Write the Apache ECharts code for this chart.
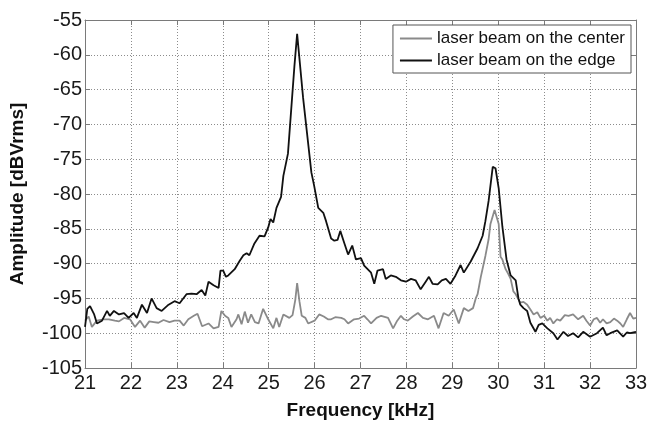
<!DOCTYPE html>
<html>
<head>
<meta charset="utf-8">
<script src="https://cdn.jsdelivr.net/npm/echarts@6/dist/echarts.min.js"></script>
<style>
html,body{margin:0;padding:0;background:#fff;}
#chart{width:652px;height:425px;}
</style>
</head>
<body>
<div id="chart"></div>
<script>
// ---- data ----
const xTicks = [21,22,23,24,25,26,27,28,29,30,31,32,33];
const yTicks = [-105,-100,-95,-90,-85,-80,-75,-70,-65,-60,-55];

const edgeFreq = [21.00,21.05,21.11,21.20,21.26,21.37,21.48,21.54,21.63,21.74,21.85,21.95,22.06,22.13,22.24,22.35,22.45,22.56,22.67,22.82,22.95,23.06,23.21,23.32,23.43,23.54,23.62,23.69,23.80,23.91,23.95,24.01,24.07,24.12,24.26,24.37,24.45,24.52,24.58,24.69,24.80,24.91,24.99,25.04,25.10,25.17,25.27,25.32,25.42,25.56,25.62,25.75,25.93,25.99,26.08,26.19,26.25,26.36,26.43,26.50,26.56,26.65,26.73,26.82,26.90,27.01,27.08,27.23,27.30,27.37,27.49,27.55,27.66,27.77,27.88,27.99,28.10,28.20,28.31,28.42,28.49,28.57,28.68,28.77,28.86,28.96,29.07,29.18,29.25,29.40,29.55,29.66,29.72,29.79,29.88,29.94,30.01,30.09,30.18,30.27,30.38,30.44,30.48,30.55,30.63,30.70,30.81,30.88,30.96,31.07,31.20,31.29,31.42,31.52,31.63,31.74,31.85,32.00,32.15,32.28,32.36,32.44,32.59,32.72,32.80,32.87,33.00];
const edgeAmp = [-99.1,-96.5,-96.1,-97.3,-98.6,-98.2,-96.8,-97.5,-96.8,-97.3,-97.1,-97.8,-97.1,-97.8,-95.9,-97.1,-95.0,-96.4,-96.8,-95.9,-95.4,-95.7,-94.4,-94.3,-94.4,-93.8,-94.6,-92.6,-93.1,-93.5,-91.0,-91.0,-91.9,-91.7,-90.8,-89.6,-88.8,-88.5,-88.8,-87.1,-86.0,-86.1,-84.8,-83.6,-84.1,-82.0,-80.4,-77.4,-74.2,-61.7,-57.0,-66.2,-76.9,-78.8,-82.0,-82.7,-83.9,-86.4,-86.7,-86.6,-85.3,-87.1,-88.7,-87.4,-89.4,-89.2,-90.3,-91.3,-92.9,-91.0,-90.8,-92.2,-91.7,-91.9,-92.4,-92.6,-92.2,-92.4,-93.7,-92.6,-91.9,-92.9,-93.0,-92.4,-92.2,-92.9,-91.7,-90.2,-91.3,-89.7,-87.8,-86.0,-83.9,-81.0,-76.1,-76.3,-79.2,-84.7,-89.4,-91.7,-92.4,-95.0,-95.9,-96.4,-96.8,-98.5,-99.8,-98.8,-98.6,-99.3,-100.0,-100.9,-99.8,-100.4,-100.0,-100.6,-99.8,-100.5,-100.0,-99.2,-100.3,-100.0,-99.6,-100.5,-99.9,-100.0,-99.8];

const centerFreq = [21.00,21.08,21.15,21.26,21.40,21.52,21.65,21.74,21.85,21.98,22.09,22.20,22.30,22.40,22.50,22.60,22.71,22.84,22.95,23.06,23.15,23.25,23.37,23.45,23.55,23.69,23.80,23.91,23.97,24.05,24.12,24.19,24.30,24.34,24.41,24.48,24.55,24.62,24.70,24.78,24.88,24.99,25.10,25.17,25.23,25.32,25.45,25.52,25.58,25.62,25.67,25.72,25.80,25.86,26.00,26.10,26.20,26.29,26.36,26.45,26.58,26.65,26.73,26.86,26.97,27.08,27.15,27.23,27.35,27.45,27.60,27.71,27.80,27.88,27.95,28.03,28.14,28.25,28.36,28.47,28.60,28.70,28.81,28.92,29.03,29.14,29.25,29.35,29.45,29.51,29.55,29.62,29.72,29.79,29.83,29.92,29.96,30.01,30.05,30.09,30.16,30.22,30.27,30.33,30.38,30.48,30.55,30.63,30.70,30.77,30.85,30.92,31.00,31.07,31.13,31.20,31.28,31.35,31.45,31.53,31.63,31.74,31.85,31.92,32.00,32.08,32.15,32.22,32.28,32.36,32.44,32.52,32.59,32.66,32.72,32.80,32.87,32.94,33.00];
const centerAmp = [-98.2,-97.6,-99.1,-98.2,-98.0,-98.0,-98.2,-98.3,-97.8,-98.0,-99.1,-98.2,-99.2,-98.3,-98.4,-98.5,-98.1,-98.4,-98.2,-98.2,-98.9,-98.0,-97.5,-97.2,-99.0,-98.6,-99.3,-99.1,-96.8,-97.5,-97.8,-99.1,-98.0,-97.3,-98.7,-96.9,-98.5,-97.3,-98.4,-98.6,-96.5,-98.0,-99.3,-97.8,-99.1,-97.3,-97.8,-97.4,-95.2,-92.8,-95.4,-97.5,-97.8,-98.6,-98.2,-97.3,-97.6,-98.0,-98.0,-97.7,-97.8,-98.0,-98.6,-98.0,-97.9,-97.5,-98.0,-98.6,-97.8,-97.5,-97.8,-99.3,-98.2,-97.5,-98.0,-98.2,-97.6,-97.1,-97.8,-98.0,-97.5,-99.3,-97.1,-97.5,-96.6,-98.6,-96.4,-96.8,-96.4,-95.0,-94.4,-91.9,-88.9,-86.5,-84.3,-82.3,-82.4,-84.3,-89.0,-89.4,-90.8,-91.5,-92.2,-94.0,-94.4,-95.6,-95.5,-95.9,-96.6,-97.3,-97.0,-97.8,-97.5,-98.2,-97.8,-98.6,-98.0,-98.2,-97.4,-97.5,-97.3,-98.0,-97.5,-98.2,-98.9,-98.0,-97.8,-98.5,-98.0,-98.6,-98.4,-97.9,-98.2,-98.6,-99.1,-98.0,-97.1,-97.9,-97.8];

const seriesNames = ['laser beam on the center','laser beam on the edge'];
const xLabel = 'Frequency [kHz]';
const yLabel = 'Amplitude [dBVrms]';

// ---- build ----
const zip = (a,b) => a.map((v,i)=>[v,b[i]]);
const FONT = 'Liberation Sans, Arial, Helvetica, sans-serif';
const chart = echarts.init(document.getElementById('chart'), null, {renderer:'canvas'});

const gridLine = {show:true, lineStyle:{color:'#8c8c8c', type:[1,2], width:1}};
const frame = {show:true, lineStyle:{color:'#7a7a7a', width:1}};
const tickIn = {show:true, inside:true, length:5, lineStyle:{color:'#7a7a7a'}};

chart.setOption({
  animation:false,
  backgroundColor:'#fff',
  grid:{left:83, top:20, right:16, bottom:46, containLabel:false},
  legend:{
    orient:'vertical', right:21, top:25,
    backgroundColor:'#fff', borderColor:'#555', borderWidth:1,
    padding:[5,6,4,7], itemGap:5, itemWidth:32, itemHeight:2,
    textStyle:{fontFamily:FONT, fontSize:17, color:'#111'},
    data:[{name:seriesNames[0], icon:'rect'},{name:seriesNames[1], icon:'rect'}]
  },
  xAxis:[
    {type:'value', min:xTicks[0], max:xTicks[xTicks.length-1], interval:1,
     name:xLabel, nameLocation:'middle', nameGap:33,
     nameTextStyle:{fontFamily:FONT, fontSize:19, fontWeight:'bold', color:'#111'},
     axisLine:frame, axisTick:tickIn, splitLine:gridLine,
     axisLabel:{fontFamily:FONT, fontSize:20, color:'#1a1a1a', margin:5}},
    {type:'value', position:'top', min:xTicks[0], max:xTicks[xTicks.length-1], interval:1,
     axisLine:frame, axisTick:tickIn, splitLine:{show:false}, axisLabel:{show:false}}
  ],
  yAxis:[
    {type:'value', min:yTicks[0], max:yTicks[yTicks.length-1], interval:5,
     name:yLabel, nameLocation:'middle', nameGap:58,
     nameTextStyle:{fontFamily:FONT, fontSize:19, fontWeight:'bold', color:'#111'},
     axisLine:frame, axisTick:tickIn, splitLine:gridLine,
     axisLabel:{fontFamily:FONT, fontSize:20, color:'#1a1a1a', margin:3}},
    {type:'value', position:'right', min:yTicks[0], max:yTicks[yTicks.length-1], interval:5,
     axisLine:frame, axisTick:tickIn, splitLine:{show:false}, axisLabel:{show:false}}
  ],
  series:[
    {name:seriesNames[0], type:'line', data:zip(centerFreq,centerAmp), showSymbol:false, symbol:'none',
     lineStyle:{color:'#8a8a8a', width:1.8}, itemStyle:{color:'#8a8a8a'}, z:2},
    {name:seriesNames[1], type:'line', data:zip(edgeFreq,edgeAmp), showSymbol:false, symbol:'none',
     lineStyle:{color:'#111111', width:1.8}, itemStyle:{color:'#111111'}, z:3}
  ]
});
</script>
</body>
</html>
